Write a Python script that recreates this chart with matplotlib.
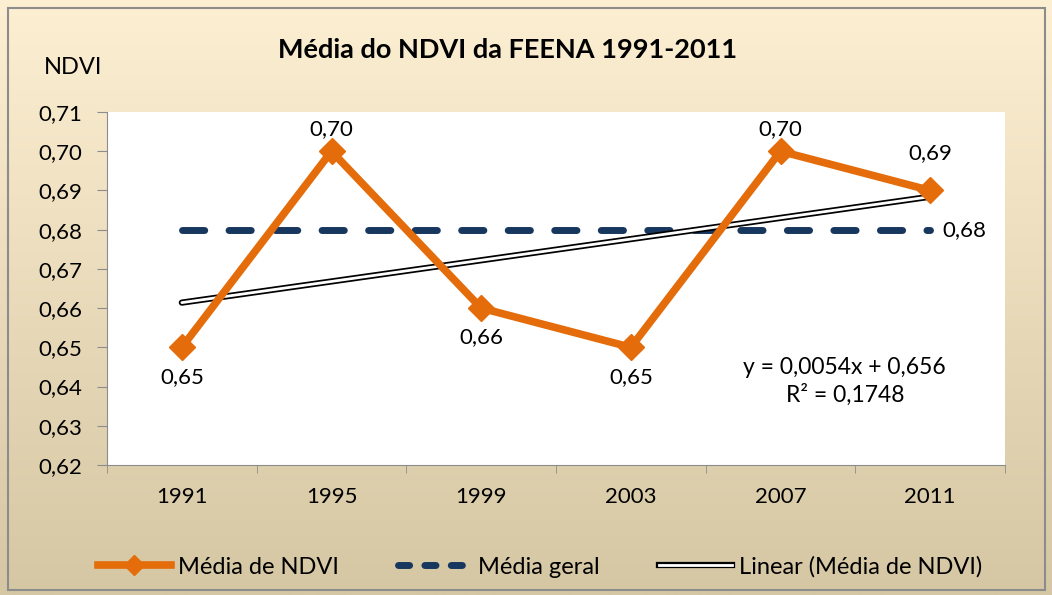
import matplotlib.pyplot as plt
import numpy as np
from matplotlib.lines import Line2D
from matplotlib.patches import Rectangle

plt.rcParams['font.family'] = ['Lato', 'DejaVu Sans']

anos = ['1991', '1995', '1999', '2003', '2007', '2011']
media_ndvi = [0.65, 0.70, 0.66, 0.65, 0.70, 0.69]
media_geral = 0.68
# equação da linha de tendência (Excel)
inclinacao = 0.0054
intercepto = 0.656
r2 = 0.1748

fig = plt.figure(figsize=(10.52, 5.95), dpi=100)

# fundo em degradê
bg = fig.add_axes([0, 0, 1, 1], zorder=-10)
grad = np.linspace(0, 1, 256).reshape(-1, 1)
top = np.array([253, 239, 210]) / 255
bottom = np.array([213, 199, 163]) / 255
img = top + (bottom - top) * grad[:, :, None]
bg.imshow(img, aspect='auto', extent=[0, 1, 0, 1])
bg.set_axis_off()
fig.patches.append(Rectangle((0.008, 0.008), 0.985, 0.978, transform=fig.transFigure,
                             fill=False, edgecolor='#8c8c8c', linewidth=1.5))

ax = fig.add_axes([107 / 1052, 1 - 465 / 595, 898 / 1052, 353 / 595])
ax.set_facecolor('white')
x = np.arange(len(anos))

ax.plot([x[0], x[-1]], [media_geral, media_geral], color='#17375E', lw=5,
        dashes=(3.2, 3.5), dash_capstyle='round', zorder=2)

tend = inclinacao * (x + 1) + intercepto
ax.plot(x, tend, color='black', lw=4.5, solid_capstyle='round', zorder=3)
ax.plot(x, tend, color='white', lw=2, solid_capstyle='round', zorder=3.1)

ax.plot(x, media_ndvi, color='#E46C0A', lw=5.5, marker='D', markersize=13,
        zorder=4)

# rótulos: acima para 0,70 e 0,69, abaixo para os demais
desloc = [-14, 9, -14, -14, 9, 20]
for xi, v, d in zip(x, media_ndvi, desloc):
    txt = ('%.2f' % v).replace('.', ',')
    ax.annotate(txt, (xi, v), xytext=(0, d), textcoords='offset points',
                ha='center', va='bottom' if d > 0 else 'top', fontsize=16)
ax.annotate(('%.2f' % media_geral).replace('.', ','), (x[-1], media_geral),
            xytext=(9, 0), textcoords='offset points', ha='left', va='center',
            fontsize=16)

ax.text(4.43, 0.6413, 'y = 0,0054x + 0,656\nR² = 0,1748', ha='center', va='center',
        fontsize=16.5, linespacing=1.3)

ax.set_xlim(-0.5, 5.5)
ax.set_ylim(0.62, 0.71)
yt = np.arange(0.62, 0.7101, 0.01)
ax.set_yticks(yt)
ax.set_yticklabels([('%.2f' % t).replace('.', ',') for t in yt], fontsize=16)
ax.set_xticks(x)
ax.set_xticklabels(anos, fontsize=16)
ax.set_xticks(np.arange(-0.5, 5.6, 1), minor=True)
ax.tick_params(axis='x', which='major', length=0, pad=16)
ax.tick_params(axis='x', which='minor', length=6, color='#8c8c8c', direction='out')
ax.tick_params(axis='y', length=7, color='#8c8c8c', pad=11)
for s in ['top', 'right']:
    ax.spines[s].set_visible(False)
for s in ['left', 'bottom']:
    ax.spines[s].set_color('#8c8c8c')

fig.text(508 / 1052, 1 - 50 / 595, 'Média do NDVI da FEENA 1991-2011', ha='center',
         va='center', fontsize=19.5, fontweight='bold')
fig.text(73 / 1052, 1 - 68 / 595, 'NDVI', ha='center', va='center', fontsize=17)

h_ndvi = Line2D([], [], color='#E46C0A', lw=5.5, marker='D', markersize=10)
h_geral = Line2D([], [], color='#17375E', lw=5, dashes=(1.6, 2.2), dash_capstyle='round')
h_lin = (Line2D([], [], color='black', lw=4.5),
         Line2D([], [], color='white', lw=2))
fig.legend([h_ndvi, h_geral, h_lin], ['Média de NDVI', 'Média geral', 'Linear (Média de NDVI)'],
           loc='center', bbox_to_anchor=(540 / 1052, 1 - 567 / 595), ncol=3,
           frameon=False, fontsize=17, handlelength=3.1, handletextpad=0.3,
           columnspacing=2.5)

fig.savefig('out.png', dpi=100)
